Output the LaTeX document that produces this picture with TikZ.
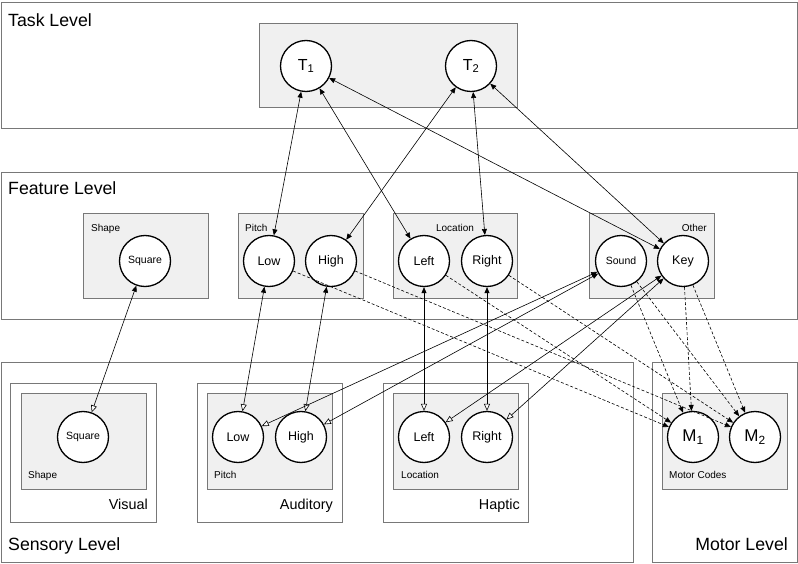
\documentclass[tikz,border=0pt]{standalone}
\usepackage{fontspec}
\setmainfont{Liberation Sans}
\usetikzlibrary{arrows.meta}
\definecolor{boxfill}{RGB}{240,240,240}
\definecolor{boxline}{RGB}{120,120,120}
\tikzset{
  lvlbox/.style={draw=boxline, line width=0.9pt, anchor=north west, inner sep=0pt},
  grpbox/.style={draw=boxline, fill=boxfill, line width=0.9pt, anchor=north west, inner sep=0pt},
  unit/.style={circle, draw=black, fill=white, line width=1.3pt, minimum size=51pt, inner sep=0pt},
  bigtxt/.style={font=\fontsize{17.7}{20}\selectfont, inner sep=0pt},
  midtxt/.style={font=\fontsize{14.4}{17}\selectfont, inner sep=0pt},
  smalltxt/.style={font=\fontsize{10}{12}\selectfont, inner sep=0pt},
  link/.style={line width=0.6pt, black},
  both/.style={link, {Triangle[length=6pt,width=5pt]}-{Triangle[length=6pt,width=5pt]}},
  down/.style={link, {Triangle[length=6pt,width=5pt]}-{Triangle[open,length=7pt,width=6pt,fill=white]}},
  motor/.style={link, dashed, dash pattern=on 3pt off 2pt, -{Triangle[length=6pt,width=5pt]}},
}
\begin{document}
\begin{tikzpicture}[x=1pt,y=-1pt]
\useasboundingbox (0,0) rectangle (798,564);
% level boxes
\node[lvlbox, minimum width=796pt, minimum height=126pt] (task) at (1,2) {};
\node[lvlbox, minimum width=796pt, minimum height=147pt] (feat) at (1,172) {};
\node[lvlbox, minimum width=632pt, minimum height=200pt] (sens) at (1,362) {};
\node[lvlbox, minimum width=145pt, minimum height=200pt] (mot) at (652,362) {};
\node[lvlbox, minimum width=146pt, minimum height=139pt] (vis) at (10,383) {};
\node[lvlbox, minimum width=145pt, minimum height=139pt] (aud) at (197,383) {};
\node[lvlbox, minimum width=145pt, minimum height=139pt] (hap) at (383,383) {};
% group boxes
\node[grpbox, minimum width=258pt, minimum height=84pt] (gtask) at (259,23) {};
\node[grpbox, minimum width=125pt, minimum height=85pt] (gfshape) at (83,213) {};
\node[grpbox, minimum width=125pt, minimum height=85pt] (gfpitch) at (238,213) {};
\node[grpbox, minimum width=124pt, minimum height=85pt] (gfloc) at (393,213) {};
\node[grpbox, minimum width=125pt, minimum height=85pt] (gfother) at (589,213) {};
\node[grpbox, minimum width=125pt, minimum height=96pt] (gsshape) at (21,393) {};
\node[grpbox, minimum width=125pt, minimum height=96pt] (gspitch) at (207,393) {};
\node[grpbox, minimum width=125pt, minimum height=96pt] (gsloc) at (393,393) {};
\node[grpbox, minimum width=125pt, minimum height=96pt] (gmot) at (662,393) {};
% labels
\node[bigtxt, anchor=base west] (ltask) at (8,27) {Task Level};
\node[bigtxt, anchor=base west] (lfeat) at (8,195) {Feature Level};
\node[bigtxt, anchor=base west] (lsens) at (8,550) {Sensory Level};
\node[bigtxt, anchor=base east] (lmot) at (788,550) {Motor Level};
\node[midtxt, anchor=base east] (lvis) at (148,509) {Visual};
\node[midtxt, anchor=base east] (laud) at (333,509) {Auditory};
\node[midtxt, anchor=base east] (lhap) at (520,509) {Haptic};
\node[smalltxt, anchor=base west] (lfshape) at (91,232) {Shape};
\node[smalltxt, anchor=base west] (lfpitch) at (245,232) {Pitch};
\node[smalltxt, anchor=base] (lfloc) at (455,232) {Location};
\node[smalltxt, anchor=base east] (lfother) at (707,232) {Other};
\node[smalltxt, anchor=base west] (lsshape) at (28,478) {Shape};
\node[smalltxt, anchor=base west] (lspitch) at (214,478) {Pitch};
\node[smalltxt, anchor=base west] (lsloc) at (401,478) {Location};
\node[smalltxt, anchor=base west] (lmc) at (669,478) {Motor Codes};
% units
\node[unit, font=\fontsize{16}{18}\selectfont] (T1) at (306,66) {T\textsubscript{1}};
\node[unit, font=\fontsize{16}{18}\selectfont] (T2) at (471,66) {T\textsubscript{2}};
\node[unit, font=\fontsize{10.5}{12}\selectfont] (fsq) at (145,261) {Square};
\node[unit, font=\fontsize{12.5}{14}\selectfont] (flow) at (269,261) {Low};
\node[unit, font=\fontsize{12.5}{14}\selectfont] (fhigh) at (331,261) {High};
\node[unit, font=\fontsize{12.5}{14}\selectfont] (fleft) at (424,261) {Left};
\node[unit, font=\fontsize{12.5}{14}\selectfont] (fright) at (487,261) {Right};
\node[unit, font=\fontsize{10.5}{12}\selectfont] (fsound) at (621,261) {Sound};
\node[unit, font=\fontsize{12.5}{14}\selectfont] (fkey) at (683,261) {Key};
\node[unit, font=\fontsize{10.5}{12}\selectfont] (ssq) at (83,437) {Square};
\node[unit, font=\fontsize{12.5}{14}\selectfont] (slow) at (238,437) {Low};
\node[unit, font=\fontsize{12.5}{14}\selectfont] (shigh) at (301,437) {High};
\node[unit, font=\fontsize{12.5}{14}\selectfont] (sleft) at (424,437) {Left};
\node[unit, font=\fontsize{12.5}{14}\selectfont] (sright) at (487,437) {Right};
\node[unit, font=\fontsize{17}{19}\selectfont] (M1) at (693,437) {M\textsubscript{1}};
\node[unit, font=\fontsize{17}{19}\selectfont] (M2) at (755,437) {M\textsubscript{2}};
% task links
\draw[both] (T1) -- (flow);
\draw[both] (T1) -- (fleft);
\draw[both] (T1) -- (fkey);
\draw[both] (T2) -- (fhigh);
\draw[both] (T2) -- (fright);
\draw[both] (T2) -- (fkey);
% sensory links
\draw[down] (fsq) -- (ssq);
\draw[down] (flow) -- (slow);
\draw[down] (fhigh) -- (shigh);
\draw[down] (fleft) -- (sleft);
\draw[down] (fright) -- (sright);
\draw[down] (fsound) -- (slow);
\draw[down] (fsound) -- (shigh);
\draw[down] (fkey) -- (sleft);
\draw[down] (fkey) -- (sright);
% motor links
\draw[motor] (flow) -- (M1);
\draw[motor] (fhigh) -- (M2);
\draw[motor] (fleft) -- (M1);
\draw[motor] (fright) -- (M2);
\draw[motor] (fsound) -- (M1);
\draw[motor] (fsound) -- (M2);
\draw[motor] (fkey) -- (M1);
\draw[motor] (fkey) -- (M2);
\end{tikzpicture}
\end{document}
